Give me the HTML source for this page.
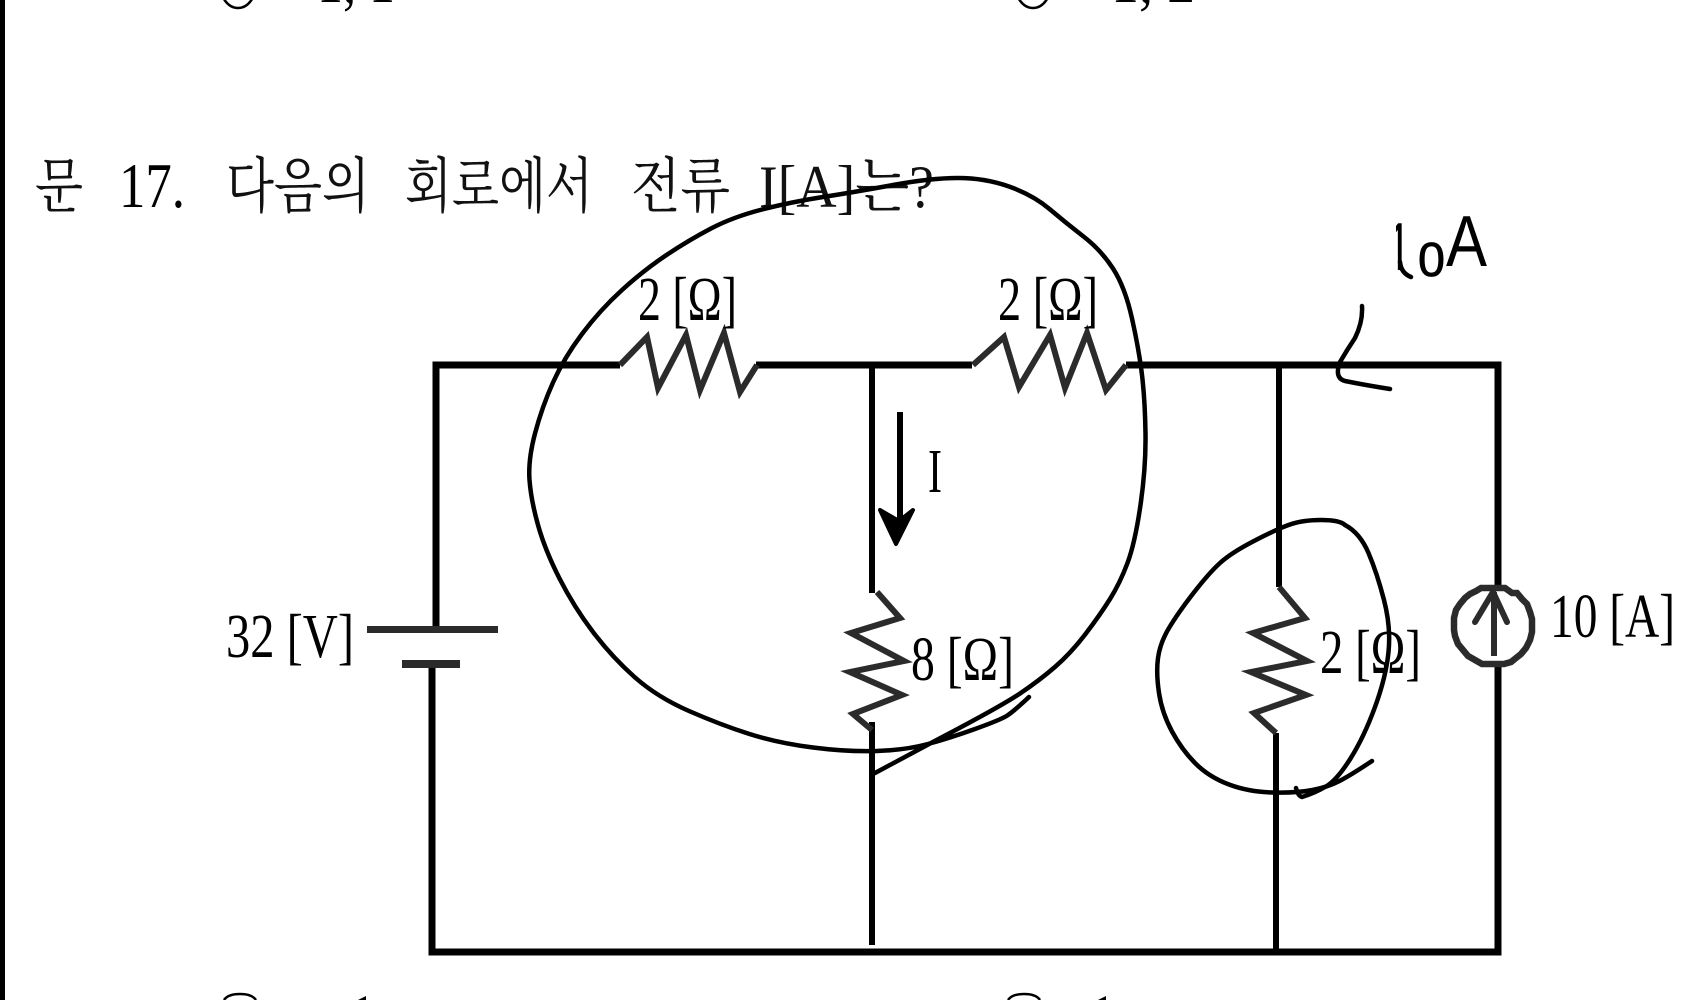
<!DOCTYPE html>
<html lang="ko">
<head>
<meta charset="utf-8">
<title>문 17 회로</title>
<style>
html,body{margin:0;padding:0;background:#fff;width:1696px;height:1000px;overflow:hidden}
svg{display:block}
.t{font-family:"Liberation Serif","Noto Serif CJK SC",serif;fill:#000}
.k{font-family:"Liberation Serif","Noto Serif CJK KR","Noto Serif CJK SC",serif;fill:#111}
.w{stroke:#000;fill:none}
.r{stroke:#2b2b2b;fill:none;stroke-width:6;stroke-linejoin:miter}
.h{stroke:#000;fill:none;stroke-width:4.5;stroke-linecap:round;stroke-linejoin:round}
</style>
</head>
<body>
<svg width="1696" height="1000" viewBox="0 0 1696 1000" xmlns="http://www.w3.org/2000/svg">
<defs><clipPath id="c1"><rect x="1396" y="222" width="10" height="48"/></clipPath></defs>
<rect width="1696" height="1000" fill="#fff"/>
<rect x="0" y="0" width="5" height="1000" fill="#000"/>

<!-- cut-off answer options, top -->
<ellipse cx="238" cy="-16" rx="18" ry="24" fill="none" stroke="#000" stroke-width="2.5"/>
<ellipse cx="1033" cy="-16" rx="18" ry="24" fill="none" stroke="#000" stroke-width="2.5"/>
<text class="t" x="317" y="2" font-size="60" textLength="78" lengthAdjust="spacingAndGlyphs">1, 1</text>
<text class="t" x="1111" y="2" font-size="60" textLength="84" lengthAdjust="spacingAndGlyphs">1, 2</text>
<!-- cut-off answer options, bottom -->
<path d="M224 1000Q228 994 240 994Q252 994 256 1000" fill="none" stroke="#000" stroke-width="2.5"/>
<path d="M1008 1000Q1012 994 1024 994Q1036 994 1040 1000" fill="none" stroke="#000" stroke-width="2.5"/>
<path d="M358 1000L366 996V1000Z" fill="#000"/>
<path d="M1098 1000L1106 996V1000Z" fill="#000"/>

<!-- title -->
<g font-size="60">
<text class="k" x="35" y="207" textLength="48" lengthAdjust="spacingAndGlyphs">문</text>
<text class="t" x="119" y="207" textLength="66" lengthAdjust="spacingAndGlyphs" font-size="64">17.</text>
<text class="k" x="226" y="207" textLength="144" lengthAdjust="spacingAndGlyphs">다음의</text>
<text class="k" x="405" y="207" textLength="188" lengthAdjust="spacingAndGlyphs">회로에서</text>
<text class="k" x="631" y="207" textLength="99" lengthAdjust="spacingAndGlyphs">전류</text>
<text class="k" x="759" y="207" textLength="175" lengthAdjust="spacingAndGlyphs">I[A]는?</text>
</g>

<!-- wires -->
<g class="w">
<path d="M620 365H436V630" stroke-width="7"/>
<path d="M756 365H972" stroke-width="7"/>
<path d="M1126 365H1498V587" stroke-width="7"/>
<path d="M872 365V593" stroke-width="6"/>
<path d="M872 722V945" stroke-width="6"/>
<path d="M1279 365V587" stroke-width="6"/>
<path d="M1276 733V955" stroke-width="6"/>
<path d="M432 666V952H1498V664" stroke-width="7"/>
</g>

<!-- battery -->
<rect x="367" y="626" width="131" height="7" fill="#2b2b2b"/>
<rect x="402" y="660" width="58" height="8" fill="#2b2b2b"/>

<!-- resistors -->
<polyline class="r" points="620,365 647,337 658,388 686,335 700,390 724,333 740,392 757,365"/>
<polyline class="r" points="973,365 1004,337 1019,387 1050,335 1065,388 1087,333 1106,390 1126,365"/>
<polyline class="r" points="877,592 900,618 851,633 904,661 850,672 902,695 853,714 872,730"/>
<polyline class="r" points="1279,587 1305,618 1253,633 1307,661 1251,672 1306,695 1254,713 1276,733"/>

<!-- current source -->
<path d="M1481 588H1505L1512 593H1517L1522 599L1527 604L1530 612L1532 619V632L1530 640L1526 648L1521 654L1516 658L1511 662L1504 664H1482L1475 660L1468 656L1463 650L1458 644L1455 636L1454 630V618L1456 610L1460 604L1465 598L1470 594L1476 591Z" fill="none" stroke="#2b2b2b" stroke-width="6.5"/>
<path d="M1494 592V656" stroke="#2b2b2b" stroke-width="6" fill="none"/>
<path d="M1475 622L1493 592L1507 622" stroke="#2b2b2b" stroke-width="6" fill="none" stroke-linecap="round"/>

<!-- I arrow -->
<path d="M900 412V522" stroke="#000" stroke-width="6" fill="none"/>
<path d="M880 510L896 544L913 510L899 521Z" fill="#000" stroke="#000" stroke-width="4" stroke-linejoin="round"/>

<!-- labels -->
<g font-size="62">
<text class="t" x="638" y="320" textLength="99" lengthAdjust="spacingAndGlyphs">2 [Ω]</text>
<text class="t" x="998" y="320" textLength="100" lengthAdjust="spacingAndGlyphs">2 [Ω]</text>
<text class="t" x="911" y="680" textLength="103" lengthAdjust="spacingAndGlyphs">8 [Ω]</text>
<text class="t" x="226" y="657" textLength="128" lengthAdjust="spacingAndGlyphs">32 [V]</text>
<text class="t" x="1320" y="673" textLength="101" lengthAdjust="spacingAndGlyphs">2 [Ω]</text>
<text class="t" x="1550" y="637" textLength="125" lengthAdjust="spacingAndGlyphs">10 [A]</text>
<text class="t" x="928" y="492" textLength="14" lengthAdjust="spacingAndGlyphs">I</text>
</g>

<!-- handwritten annotation -->
<g font-family="'Liberation Sans',sans-serif" fill="#000">
<text x="1387" y="277" font-size="78" textLength="24" lengthAdjust="spacingAndGlyphs" clip-path="url(#c1)">1</text>
<text x="1418" y="276" font-size="48" textLength="27" lengthAdjust="spacingAndGlyphs" stroke="#000" stroke-width="0.8">0</text>
<text x="1446" y="266" font-size="72" textLength="41" lengthAdjust="spacingAndGlyphs">A</text>
</g>
<path class="h" d="M1400 262Q1401 273 1411 277" stroke-width="5"/>
<path class="h" d="M1362 306Q1363 322 1355 338Q1347 350 1340 362Q1334 378 1345 381Q1365 385 1390 389"/>

<!-- big loop -->
<path class="h" d="M875 773L931 743Q1000 707 1020 693.5Q1040 680 1055.5 666.5Q1071 653 1085.5 634Q1100 615 1110 599Q1120 583 1127.5 563Q1135 543 1140.5 505Q1146 467 1145.5 433.5Q1145 400 1142 375Q1139 350 1132 318.5Q1125 287 1113 268.5Q1101 250 1083.5 236.5Q1066 223 1049.5 209Q1033 195 1009 186.5Q985 178 958 178Q931 178 893 185Q855 192 823 197Q791 202 762 209.5Q733 217 711 228.5Q689 240 666.5 255Q644 270 622 290Q600 310 582 334Q564 358 553 382.5Q542 407 535 433.5Q528 460 529.5 480Q531 500 538 525Q545 550 559.5 578.5Q574 607 593 632Q612 657 634.5 677Q657 697 689 711Q721 725 749.5 734Q778 743 813 747.5Q848 752 877 751Q906 750 928 744Q950 738 975 729Q1000 720 1006.5 716Q1013 712 1029 697"/>

<!-- small loop -->
<path class="h" d="M1345 525Q1340 520 1321 520Q1302 520 1288.5 525Q1275 530 1253 541.5Q1231 553 1220 563Q1209 573 1193.5 593Q1178 613 1169 628Q1160 643 1158 658Q1156 673 1159 693Q1162 713 1172 731.5Q1182 750 1195.5 763.5Q1209 777 1229 784.5Q1249 792 1273 792.5Q1297 793 1312.5 790Q1328 787 1339.5 781Q1351 775 1372 761"/>
<path class="h" d="M1345 525Q1360 533 1368.5 553Q1377 573 1384 600Q1391 627 1388.5 652Q1386 677 1375 707Q1364 737 1350.5 758.5Q1337 780 1326 786.5Q1315 793 1302 797Q1298 796 1296 788"/>
</svg>
</body>
</html>
